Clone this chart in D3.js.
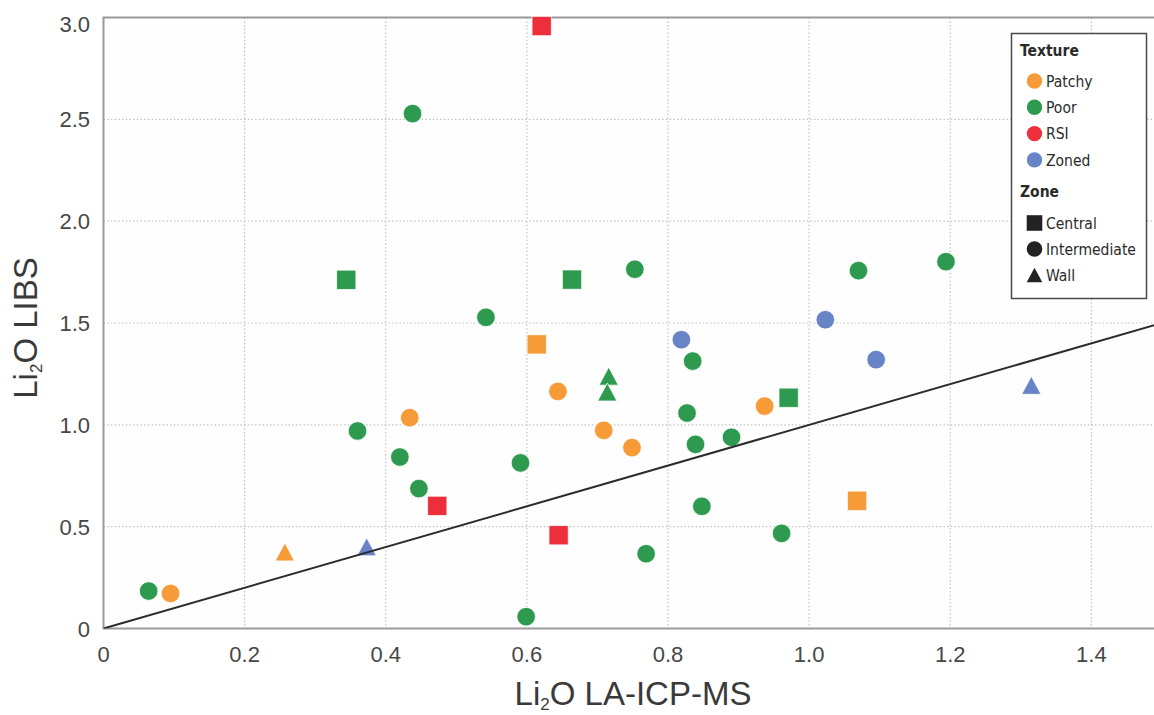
<!DOCTYPE html>
<html>
<head>
<meta charset="utf-8">
<script src="https://cdn.jsdelivr.net/npm/d3@7/dist/d3.min.js"></script>
<style>
  html, body { margin: 0; padding: 0; background: #fff; }
  svg { display: block; }
</style>
</head>
<body>
<svg id="chart" width="1154" height="715"></svg>
<script>
// Li2O by LA-ICP-MS (x) versus LIBS (y), coloured by texture, shaped by zone
const xValues = [0.064, 0.360, 0.420, 0.447, 0.542, 0.438, 0.591, 0.599, 0.769, 0.753, 0.835, 0.827, 0.839, 0.890, 0.848, 0.961, 1.070, 1.194,
                 0.344, 0.664, 0.971,
                 0.716, 0.714,
                 0.095, 0.434, 0.644, 0.709, 0.749, 0.937,
                 0.614, 1.068,
                 0.257,
                 0.621, 0.473, 0.645,
                 0.819, 1.023, 1.095,
                 0.373, 1.315];
const yValues = [0.184, 0.970, 0.842, 0.687, 1.528, 2.528, 0.813, 0.058, 0.367, 1.764, 1.313, 1.058, 0.904, 0.939, 0.600, 0.467, 1.757, 1.801,
                 1.712, 1.713, 1.133,
                 1.239, 1.161,
                 0.172, 1.035, 1.164, 0.973, 0.888, 1.092,
                 1.395, 0.627,
                 0.376,
                 2.958, 0.602, 0.458,
                 1.418, 1.516, 1.320,
                 0.401, 1.194];
const textures = ["Poor","Poor","Poor","Poor","Poor","Poor","Poor","Poor","Poor","Poor","Poor","Poor","Poor","Poor","Poor","Poor","Poor","Poor",
                  "Poor","Poor","Poor",
                  "Poor","Poor",
                  "Patchy","Patchy","Patchy","Patchy","Patchy","Patchy",
                  "Patchy","Patchy",
                  "Patchy",
                  "RSI","RSI","RSI",
                  "Zoned","Zoned","Zoned",
                  "Zoned","Zoned"];
const zones = ["Intermediate","Intermediate","Intermediate","Intermediate","Intermediate","Intermediate","Intermediate","Intermediate","Intermediate",
               "Intermediate","Intermediate","Intermediate","Intermediate","Intermediate","Intermediate","Intermediate","Intermediate","Intermediate",
               "Central","Central","Central",
               "Wall","Wall",
               "Intermediate","Intermediate","Intermediate","Intermediate","Intermediate","Intermediate",
               "Central","Central",
               "Wall",
               "Central","Central","Central",
               "Intermediate","Intermediate","Intermediate",
               "Wall","Wall"];

const textureNames = ["Patchy", "Poor", "RSI", "Zoned"];
const textureColors = ["#f79a38", "#2e9a4f", "#ec2f3b", "#6884c6"];
const zoneNames = ["Central", "Intermediate", "Wall"];

const xTicks = [0, 0.2, 0.4, 0.6, 0.8, 1.0, 1.2, 1.4];
const xTickLabels = ["0", "0.2", "0.4", "0.6", "0.8", "1.0", "1.2", "1.4"];
const yTicks = [0, 0.5, 1.0, 1.5, 2.0, 2.5, 3.0];
const yTickLabels = ["0", "0.5", "1.0", "1.5", "2.0", "2.5", "3.0"];

const points = xValues.map((v, i) => ({ x: v, y: yValues[i], texture: textures[i], zone: zones[i] }));

const svg = d3.select("#chart");
const W = 1154;
const plotLeft = 103.5, plotBottom = 628.5, plotTop = 17.5;

const x = d3.scaleLinear().domain([0, 1.5]).range([plotLeft, plotLeft + 1.5 * 705.6]);
const y = d3.scaleLinear().domain([0, 3]).range([plotBottom, plotTop]);
const color = d3.scaleOrdinal().domain(textureNames).range(textureColors);

// marker shapes: square, circle, triangle (triangle centred on its bounding box)
function markerPath(zone, s) {
  if (zone === "Central") {
    const h = s / 2;
    return `M${-h},${-h}H${h}V${h}H${-h}Z`;
  }
  if (zone === "Wall") {
    const w = s * 1.0, h = s * 0.93;
    return `M0,${-h / 2}L${w / 2},${h / 2}L${-w / 2},${h / 2}Z`;
  }
  const r = s / 2;
  return `M${r},0A${r},${r},0,1,1,${-r},0A${r},${r},0,1,1,${r},0Z`;
}

// plot background
svg.append("rect").attr("x", plotLeft).attr("y", plotTop).attr("width", W).attr("height", plotBottom - plotTop)
  .attr("fill", "#fefefe");

// grid
const grid = svg.append("g").attr("stroke", "#c2c2c2").attr("stroke-width", 1.2)
  .attr("stroke-dasharray", "1.5,2.2").attr("fill", "none");
grid.selectAll(".gx").data(xTicks.filter(d => d > 0)).join("line")
  .attr("x1", d => x(d)).attr("x2", d => x(d)).attr("y1", plotTop).attr("y2", plotBottom);
grid.selectAll(".gy").data(yTicks.filter(d => d > 0 && d < 3)).join("line")
  .attr("x1", plotLeft).attr("x2", W).attr("y1", d => y(d)).attr("y2", d => y(d));

// frame
svg.append("rect").attr("x", plotLeft).attr("y", plotTop).attr("width", W).attr("height", plotBottom - plotTop)
  .attr("fill", "none").attr("stroke", "#9a9a9a").attr("stroke-width", 2);

// tick labels
const tickFont = "'Liberation Sans', Arial, Helvetica, sans-serif";
svg.append("g").selectAll("text").data(xTicks).join("text")
  .attr("x", d => x(d)).attr("y", 662)
  .attr("text-anchor", "middle").attr("font-family", tickFont).attr("font-size", 22)
  .attr("fill", "#474747").text((d, i) => xTickLabels[i]);
svg.append("g").selectAll("text").data(yTicks).join("text")
  .attr("x", 90).attr("y", d => Math.max(y(d), 24) + 8)
  .attr("text-anchor", "end").attr("font-family", tickFont).attr("font-size", 22)
  .attr("fill", "#474747").text((d, i) => yTickLabels[i]);

// axis titles
function titleWithSub(sel) {
  sel.append("tspan").text("Li");
  sel.append("tspan").attr("font-size", 17).attr("dy", 5).text("2");
  sel.append("tspan").attr("dy", -5).text("O ");
}
const xt = svg.append("text").attr("x", 633).attr("y", 705).attr("text-anchor", "middle")
  .attr("font-family", tickFont).attr("font-size", 33).attr("fill", "#3a3a3a");
titleWithSub(xt);
xt.append("tspan").text("LA-ICP-MS");

const yt = svg.append("text").attr("transform", "translate(37,328) rotate(-90)").attr("text-anchor", "middle")
  .attr("font-family", tickFont).attr("font-size", 33).attr("fill", "#3a3a3a");
titleWithSub(yt);
yt.append("tspan").text("LIBS");

// points
svg.append("clipPath").attr("id", "plotclip").append("rect")
  .attr("x", plotLeft).attr("y", 0).attr("width", W).attr("height", plotBottom);
svg.append("g").selectAll("path").data(points).join("path")
  .attr("transform", d => `translate(${x(d.x)},${y(d.y)})`)
  .attr("d", d => markerPath(d.zone, d.zone === "Intermediate" ? 18.6 : 19.3))
  .attr("fill", d => color(d.texture))
  .attr("stroke", "rgba(255,255,255,0.75)").attr("stroke-width", 1);

// 1:1 reference line
svg.append("line").attr("clip-path", "url(#plotclip)")
  .attr("x1", x(0)).attr("y1", y(0)).attr("x2", x(1.5)).attr("y2", y(1.5))
  .attr("stroke", "#2b2b2b").attr("stroke-width", 2);

// legend
const legFont = "'DejaVu Sans Condensed', 'DejaVu Sans', Tahoma, sans-serif";
const leg = svg.append("g");
leg.append("rect").attr("x", 1011.5).attr("y", 33.5).attr("width", 135).attr("height", 265)
  .attr("fill", "#fff").attr("stroke", "#4a4a4a").attr("stroke-width", 1.5);
leg.append("text").attr("x", 1020).attr("y", 56).attr("font-family", legFont).attr("font-size", 15.5)
  .attr("font-weight", "bold").attr("fill", "#2a2a2a").text("Texture");
textureNames.forEach((t, i) => {
  const cy = 81 + i * 26.3;
  leg.append("circle").attr("cx", 1034.5).attr("cy", cy).attr("r", 7.7).attr("fill", color(t));
  leg.append("text").attr("x", 1046).attr("y", cy + 5.6).attr("font-family", legFont)
    .attr("font-size", 15.5).attr("fill", "#2a2a2a").text(t);
});
leg.append("text").attr("x", 1020).attr("y", 196.5).attr("font-family", legFont).attr("font-size", 15.5)
  .attr("font-weight", "bold").attr("fill", "#2a2a2a").text("Zone");
zoneNames.forEach((z, i) => {
  const cy = 223 + i * 26;
  leg.append("path").attr("transform", `translate(1034.5,${cy})`)
    .attr("d", markerPath(z, 15.6)).attr("fill", "#222");
  leg.append("text").attr("x", 1046).attr("y", cy + 5.6).attr("font-family", legFont)
    .attr("font-size", 15.5).attr("fill", "#2a2a2a").text(z);
});
</script>
</body>
</html>
